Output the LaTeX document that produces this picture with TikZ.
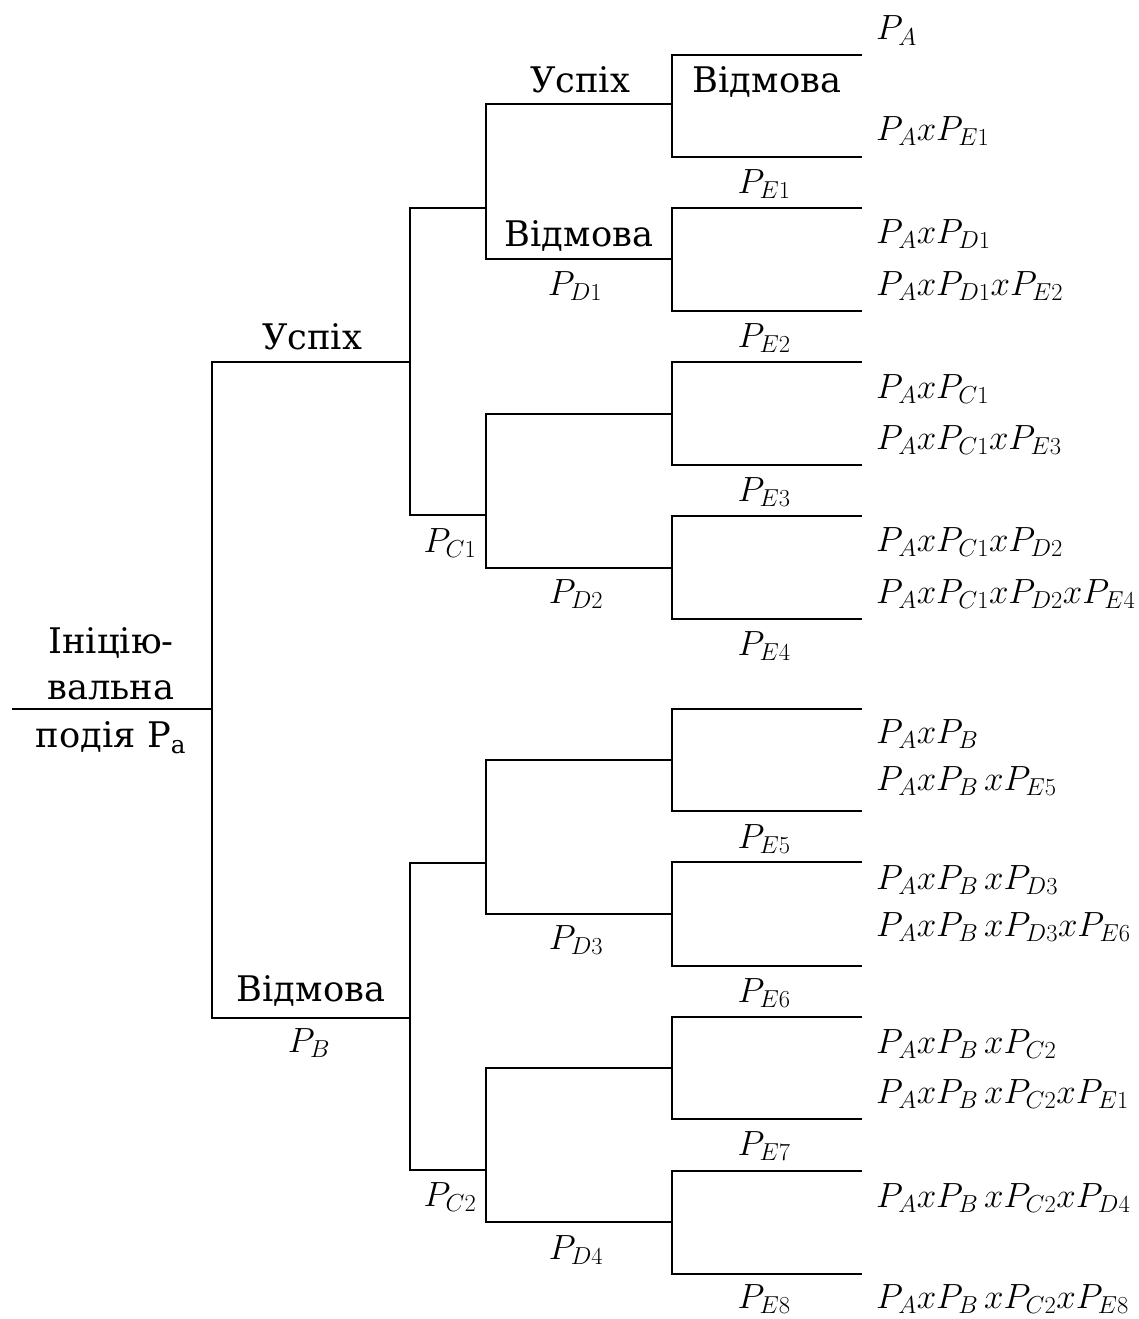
\RequirePackage{fix-cm}
\documentclass[tikz,border=0pt]{standalone}
\usepackage{fontspec}
\setmainfont{DejaVu Serif}[Scale=0.86]
\begin{document}
\begin{tikzpicture}[x=1pt,y=-1pt]
\tikzset{
  branch/.style={line width=2.7pt, line join=miter},
  word/.style={font=\rmfamily\fontsize{41}{46}\selectfont, inner sep=0pt, anchor=base},
  prob/.style={font=\rmfamily\fontsize{35}{40}\selectfont, inner sep=0pt, anchor=base},
  outcome/.style={prob, anchor=base west},
}
\useasboundingbox (0,0) rectangle (1139,1319);

% junctions of the event tree
\coordinate (start) at (12,709);
\coordinate (root)  at (212,709);
\coordinate (a)  at (410,362);
\coordinate (b)  at (410,1018);
\coordinate (a1) at (486,208);
\coordinate (a2) at (486,515);
\coordinate (b1) at (486,863);
\coordinate (b2) at (486,1170);
\coordinate (k1) at (672,104);
\coordinate (k2) at (672,259);
\coordinate (k3) at (672,414);
\coordinate (k4) at (672,568);
\coordinate (k5) at (672,760);
\coordinate (k6) at (672,914);
\coordinate (k7) at (672,1068);
\coordinate (k8) at (672,1222);
% leaf ends
\foreach \i/\y in {1/55,2/157,3/208,4/311,5/362,6/465,7/516,8/619,
                   9/709,10/811,11/862,12/966,13/1017,14/1119,15/1171,16/1274}
  \coordinate (l\i) at (862,\y);

% branches
\draw[branch] (start) -- (root);
\draw[branch] (a) -| (root) |- (b);
\draw[branch] (a1) -| (a) |- (a2);
\draw[branch] (b1) -| (b) |- (b2);
\draw[branch] (k1) -| (a1) |- (k2);
\draw[branch] (k3) -| (a2) |- (k4);
\draw[branch] (k5) -| (b1) |- (k6);
\draw[branch] (k7) -| (b2) |- (k8);
\draw[branch] (l1) -| (k1) |- (l2);
\draw[branch] (l3) -| (k2) |- (l4);
\draw[branch] (l5) -| (k3) |- (l6);
\draw[branch] (l7) -| (k4) |- (l8);
\draw[branch] (l9) -| (k5) |- (l10);
\draw[branch] (l11) -| (k6) |- (l12);
\draw[branch] (l13) -| (k7) |- (l14);
\draw[branch] (l15) -| (k8) |- (l16);

% initiating event
\node[word] (init1) at (111,653) {Ініцію-};
\node[word] (init2) at (111,699) {вальна};
\node[word] (init3) at (111,747) {подія P\textsubscript{a}};

% branch words
\node[word] (s1) at (312,349) {Успіх};
\node[word] (f1) at (311,1001) {Відмова};
\node[word] (s2) at (580,93) {Успіх};
\node[word] (f2) at (579,246) {Відмова};
\node[word] (f3) at (767,93) {Відмова};

% branch probabilities
\node[prob] (pb)  at (309,1052) {$P_{B}$};
\node[prob] (pc1) at (450,552)  {$P_{C1}$};
\node[prob] (pc2) at (450,1206) {$P_{C2}$};
\node[prob] (pd1) at (575,295)  {$P_{D1}$};
\node[prob] (pd2) at (576,603)  {$P_{D2}$};
\node[prob] (pd3) at (576,949)  {$P_{D3}$};
\node[prob] (pd4) at (576,1259) {$P_{D4}$};
\node[prob] (pe1) at (764,193)  {$P_{E1}$};
\node[prob] (pe2) at (764,347)  {$P_{E2}$};
\node[prob] (pe3) at (764,501)  {$P_{E3}$};
\node[prob] (pe4) at (764,655)  {$P_{E4}$};
\node[prob] (pe5) at (764,848)  {$P_{E5}$};
\node[prob] (pe6) at (764,1002) {$P_{E6}$};
\node[prob] (pe7) at (764,1155) {$P_{E7}$};
\node[prob] (pe8) at (764,1308) {$P_{E8}$};

% outcome frequencies
\node[outcome] (o1)  at (876,40)   {$P_{A}$};
\node[outcome] (o2)  at (876,140)  {$P_{A}xP_{E1}$};
\node[outcome] (o3)  at (876,243)  {$P_{A}xP_{D1}$};
\node[outcome] (o4)  at (876,295)  {$P_{A}xP_{D1}xP_{E2}$};
\node[outcome] (o5)  at (876,398)  {$P_{A}xP_{C1}$};
\node[outcome] (o6)  at (876,449)  {$P_{A}xP_{C1}xP_{E3}$};
\node[outcome] (o7)  at (876,551)  {$P_{A}xP_{C1}xP_{D2}$};
\node[outcome] (o8)  at (876,603)  {$P_{A}xP_{C1}xP_{D2}xP_{E4}$};
\node[outcome] (o9)  at (876,743)  {$P_{A}xP_{B}$};
\node[outcome] (o10) at (876,790)  {$P_{A}xP_{B}\,xP_{E5}$};
\node[outcome] (o11) at (876,889)  {$P_{A}xP_{B}\,xP_{D3}$};
\node[outcome] (o12) at (876,936)  {$P_{A}xP_{B}\,xP_{D3}xP_{E6}$};
\node[outcome] (o13) at (876,1053) {$P_{A}xP_{B}\,xP_{C2}$};
\node[outcome] (o14) at (876,1103) {$P_{A}xP_{B}\,xP_{C2}xP_{E1}$};
\node[outcome] (o15) at (876,1207) {$P_{A}xP_{B}\,xP_{C2}xP_{D4}$};
\node[outcome] (o16) at (876,1308) {$P_{A}xP_{B}\,xP_{C2}xP_{E8}$};
\end{tikzpicture}
\end{document}
